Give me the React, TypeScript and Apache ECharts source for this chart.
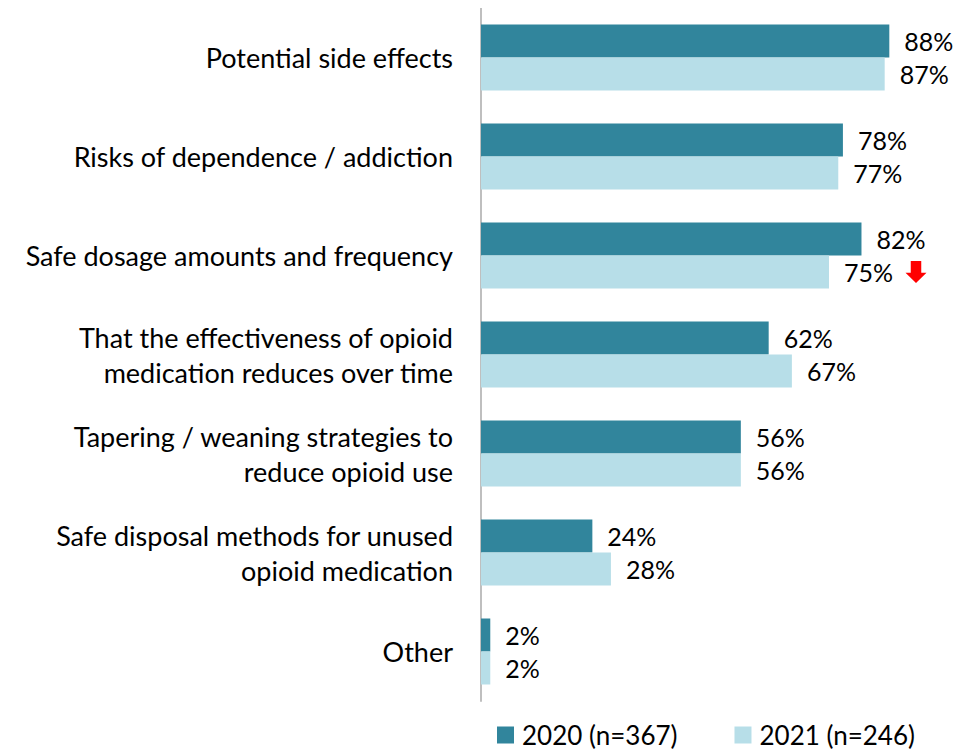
import React, { useEffect, useRef } from "react";
import * as echarts from "echarts";

const categories = [
  "Potential side effects",
  "Risks of dependence / addiction",
  "Safe dosage amounts and frequency",
  "That the effectiveness of opioid\nmedication reduces over time",
  "Tapering / weaning strategies to\nreduce opioid use",
  "Safe disposal methods for unused\nopioid medication",
  "Other",
];
const values2020 = [88, 78, 82, 62, 56, 24, 2];
const values2021 = [87, 77, 75, 67, 56, 28, 2];
const seriesNames = ["2020 (n=367)", "2021 (n=246)"];
const downArrowIndex = 2;

const FONT = "Lato";

export default function App() {
  const ref = useRef<HTMLDivElement>(null);
  useEffect(() => {
    if (!ref.current) return;
    const chart = echarts.init(ref.current, undefined, { renderer: "svg" });
    const labelStyle = {
      show: true,
      position: "right" as const,
      distance: 15,
      formatter: "{c}%",
      color: "#000",
      fontSize: 25,
      fontFamily: FONT,
    };
    chart.setOption({
      animation: false,
      grid: { left: 473, right: 29, top: 0, bottom: 49, containLabel: false },
      xAxis: {
        type: "value",
        min: 0,
        max: 100,
        show: false,
      },
      yAxis: {
        type: "category",
        data: categories,
        inverse: true,
        axisLine: { show: true, lineStyle: { color: "#BFBFBF", width: 2 } },
        axisTick: { show: false },
        axisLabel: {
          margin: 28,
          fontSize: 27,
          fontFamily: FONT,
          color: "#000",
          lineHeight: 35,
          align: "right",
        },
      },
      legend: {
        top: 709,
        left: 484,
        itemWidth: 17,
        itemHeight: 17,
        itemGap: 57,
        icon: "rect",
        textStyle: { fontSize: 26, fontFamily: FONT, color: "#000", padding: [0, 0, 0, 3] },
        data: seriesNames,
      },
      series: [
        {
          name: seriesNames[0],
          type: "bar",
          data: values2020,
          barWidth: 33,
          barGap: "0%",
          itemStyle: { color: "#31859C" },
          label: labelStyle,
        },
        {
          name: seriesNames[1],
          type: "bar",
          data: values2021,
          barWidth: 33,
          barGap: "0%",
          itemStyle: { color: "#B7DEE8" },
          label: labelStyle,
          markPoint: {
            silent: true,
            label: { show: false },
            data: [
              {
                coord: [values2021[downArrowIndex], categories[downArrowIndex]],
                symbol: "path://M3,0 L9,0 L9,7 L12,7 L6,13 L0,7 L3,7 Z",
                symbolSize: [21, 22],
                symbolOffset: [87, 0],
                itemStyle: { color: "#FF0000" },
              },
            ],
          },
        },
      ],
    });
    return () => chart.dispose();
  }, []);
  return <div ref={ref} style={{ width: 966, height: 742 }} />;
}
